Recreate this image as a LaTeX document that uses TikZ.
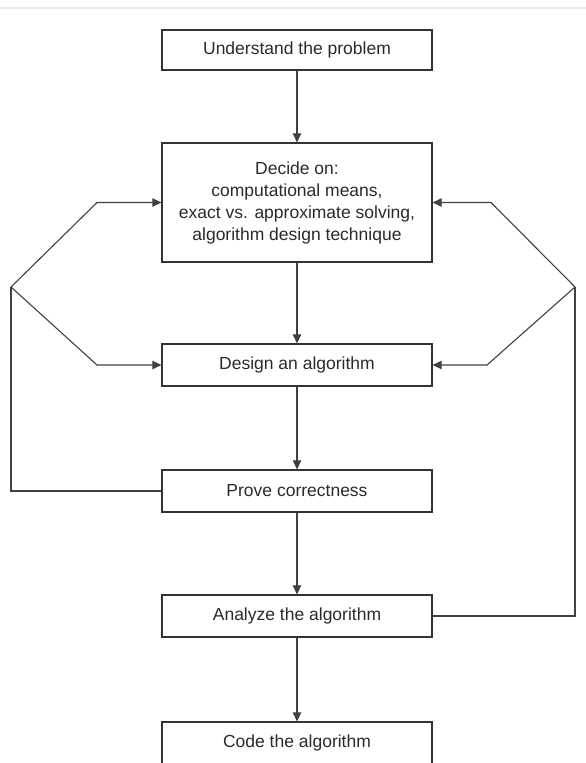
\documentclass[tikz,border=0pt]{standalone}
\usepackage{fontspec}
\setmainfont{Liberation Sans}
\usetikzlibrary{arrows.meta}
\definecolor{boxline}{HTML}{333333}
\definecolor{conline}{HTML}{404040}
\definecolor{txt}{HTML}{2A2A2A}
\tikzset{
  stepbox/.style={draw=boxline, line width=1.3pt, minimum width=270pt, minimum height=42pt,
    inner sep=0pt, align=center, text=txt, font=\fontsize{17.5}{22}\selectfont},
  conn/.style={draw=conline, line width=1.1pt},
  arr/.style={conn, -{Triangle[length=9pt,width=8.5pt]}}
}
\begin{document}
\begin{tikzpicture}[x=1pt,y=-1pt]
\useasboundingbox (0,0) rectangle (586,763);
\draw[black!8, line width=1.2pt] (0,8) -- (586,8);

\node[stepbox, minimum height=40pt] (b1) at (297,50) {Understand the problem};
\node[stepbox, minimum height=119pt] (b2) at (297,202.5) {Decide on:\\computational means,\\exact vs. approximate solving,\\algorithm design technique};
\node[stepbox] (b3) at (297,365) {Design an algorithm};
\node[stepbox] (b4) at (297,491) {Prove correctness};
\node[stepbox] (b5) at (297,616) {Analyze the algorithm};
\node[stepbox] (b6) at (297,743) {Code the algorithm};

\draw[arr] (b1) -- (b2);
\draw[arr] (b2) -- (b3);
\draw[arr] (b3) -- (b4);
\draw[arr] (b4) -- (b5);
\draw[arr] (b5) -- (b6);

\coordinate (lp) at (11,287);
\coordinate (lu) at (97,202.5);
\coordinate (ld) at (97,365);
\coordinate (rp) at (575,287);
\coordinate (ru) at (491,202.5);
\coordinate (rd) at (487,365);

\draw[conn] (b4.west) -| (lp);
\draw[arr] (lp) -- (lu) -- (b2.west);
\draw[arr] (lp) -- (ld) -- (b3.west);
\draw[conn] (b5.east) -| (rp);
\draw[arr] (rp) -- (ru) -- (b2.east);
\draw[arr] (rp) -- (rd) -- (b3.east);
\end{tikzpicture}
\end{document}
